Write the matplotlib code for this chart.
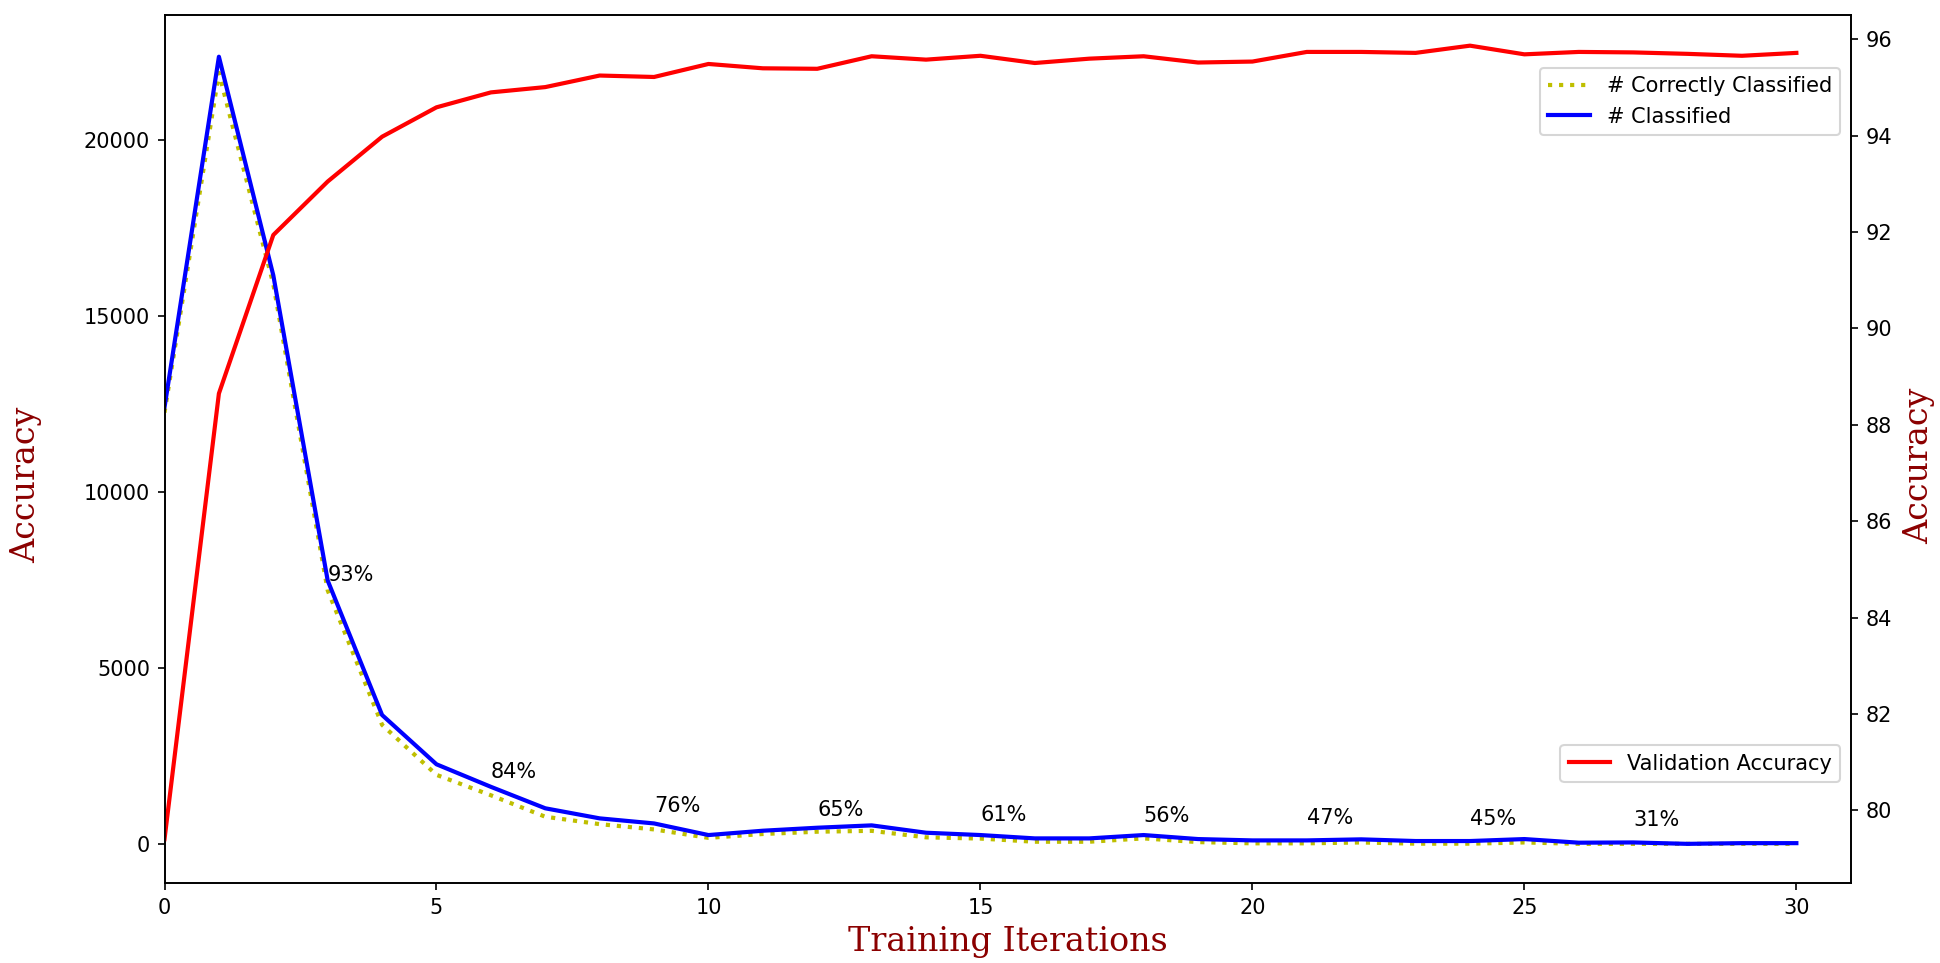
import numpy as np
import matplotlib
matplotlib.use('Agg')
import matplotlib.pyplot as plt

# values
iterations = np.arange(0, 31)
classified = [12400, 22360, 16150, 7480, 3660, 2260, 1620, 1010, 724, 580,
              250, 373, 458, 525, 316, 250, 155, 155, 250, 136,
              98, 98, 128, 80, 80, 136, 33, 40, 0, 20, 20]
correct = [12250, 21900, 15900, 7200, 3380, 1960, 1380, 770, 560, 410,
           170, 280, 345, 370, 185, 150, 60, 60, 155, 50,
           15, 15, 40, 5, 5, 40, 0, 0, 0, 0, 0]
val_acc = [79.4, 88.65, 91.94, 93.05, 93.98, 94.59, 94.90, 95.01, 95.25, 95.22,
           95.49, 95.40, 95.39, 95.65, 95.58, 95.66, 95.51, 95.60, 95.65, 95.52,
           95.54, 95.74, 95.74, 95.72, 95.87, 95.69, 95.74, 95.73, 95.70, 95.66, 95.72]

label_x = [3, 6, 9, 12, 15, 18, 21, 24, 27]
label_y = [7460, 1870, 910, 780, 650, 630, 550, 530, 500]
label_txt = ['93%', '84%', '76%', '65%', '61%', '56%', '47%', '45%', '31%']

font = {'family': 'serif', 'color': 'darkred', 'size': 16}

fig = plt.figure(figsize=(1940 / 150, 963 / 150), dpi=150)
ax1 = fig.add_subplot(111)
fig.subplots_adjust(left=0.0848, right=0.954, bottom=0.0826, top=0.9846)

ax1.plot(iterations, correct, 'y:', lw=2, label='# Correctly Classified')
ax1.plot(iterations, classified, 'b-', lw=2, label='# Classified')
for x, y, t in zip(label_x, label_y, label_txt):
    ax1.text(x, y, t, fontsize=10)

ax1.set_xlim(0, 31)
ax1.set_ylim(-1125, 23550)
ax1.set_xlabel('Training Iterations', fontdict=font)
ax1.set_ylabel('Accuracy', fontdict=font)
ax1.yaxis.set_label_coords(-0.0726, 0.459)
ax1.legend(loc='upper right', bbox_to_anchor=(1, 0.951))

ax2 = ax1.twinx()
ax2.plot(iterations, val_acc, 'r-', lw=2, label='Validation Accuracy')
ax2.set_ylim(78.48, 96.51)
ax2.set_yticks(np.arange(80, 97, 2))
ax2.set_ylabel('Accuracy', fontdict=font)
ax2.yaxis.set_label_coords(1.031, 0.481)
ax2.legend(loc='lower right', bbox_to_anchor=(1, 0.105))

fig.savefig('out.png', dpi=150)
